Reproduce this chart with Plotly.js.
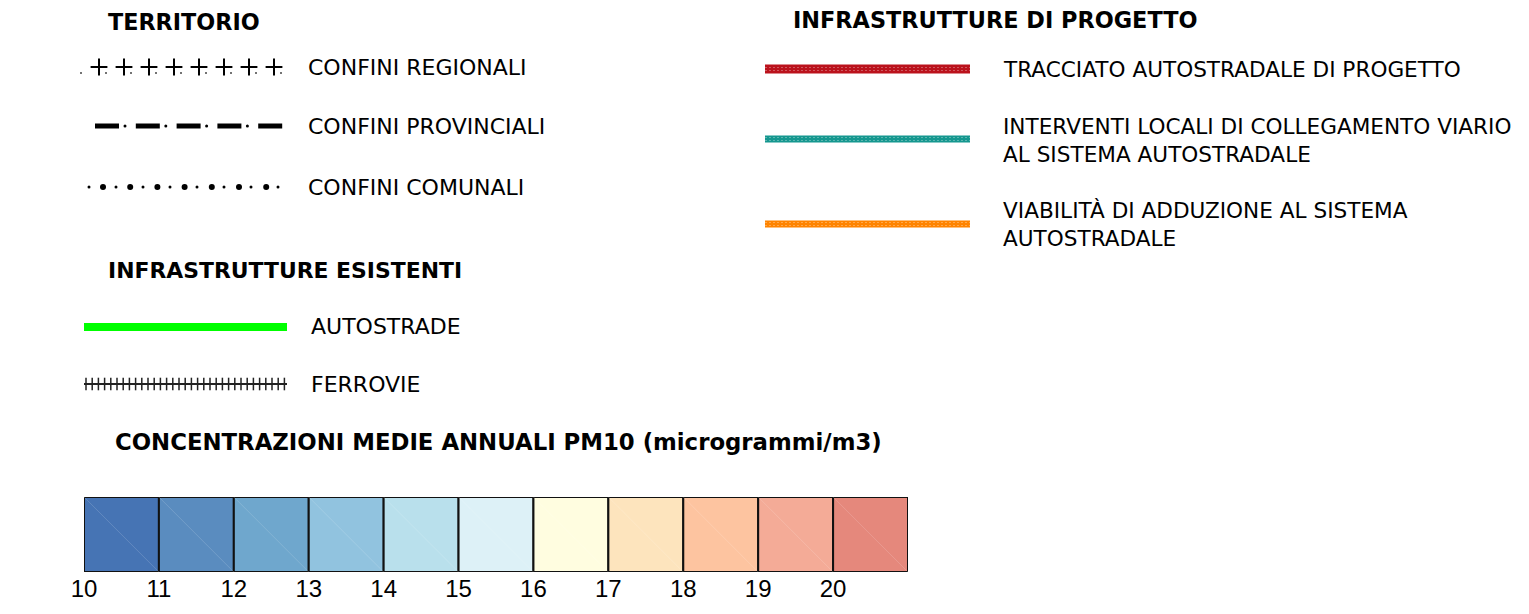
<!DOCTYPE html>
<html><head><meta charset="utf-8">
<script src="https://cdn.plot.ly/plotly-3.0.1.min.js"></script>
<style>html,body{margin:0;padding:0;background:#fff;overflow:hidden}</style>
</head><body><div id="chart" style="width:1529px;height:614px"></div>
<script>
// ---- DATA ----
const binStart = [10, 11, 12, 13, 14, 15, 16, 17, 18, 19, 20];
const binColors = ['#4674b4', '#5a8cbf', '#6fa7cd', '#91c3df', '#b9e0ec', '#ddf1f7',
                   '#fffde0', '#fde4bd', '#fdc4a0', '#f4ab97', '#e5887c'];
const tickValues = [10, 11, 12, 13, 14, 15, 16, 17, 18, 19, 20];
const tickLabels = ['10', '11', '12', '13', '14', '15', '16', '17', '18', '19', '20'];
const scaleTitle = 'CONCENTRAZIONI MEDIE ANNUALI PM10 (microgrammi/m3)';
const sectionTitles = ['TERRITORIO', 'INFRASTRUTTURE ESISTENTI', 'INFRASTRUTTURE DI PROGETTO'];
const territorioLabels = ['CONFINI REGIONALI', 'CONFINI PROVINCIALI', 'CONFINI COMUNALI'];
const esistentiLabels = ['AUTOSTRADE', 'FERROVIE'];
const progettoLabels = ['TRACCIATO AUTOSTRADALE DI PROGETTO',
  'INTERVENTI LOCALI DI COLLEGAMENTO VIARIO<br>AL SISTEMA AUTOSTRADALE',
  'VIABILITÀ DI ADDUZIONE AL SISTEMA<br>AUTOSTRADALE'];
const progettoColors = ['#bb121c', '#15978f', '#ff8400'];

// ---- LAYOUT CONSTANTS (pixels) ----
const W = 1529, H = 614;
const px = v => v / W, py = v => 1 - v / H;
const TXT = 'DejaVu Sans, Liberation Sans, sans-serif';
const leftSym = [84, 287], rightSym = [765, 970];
const rowY = {reg: 67, prov: 126, com: 187, auto: 327, ferr: 384, p1: 69, p2: 139, p3: 224};

const traces = [];
// colour scale bars
traces.push({
  type: 'bar', x: binStart.map(v => v + 0.5), y: binStart.map(() => 1), width: 1,
  marker: {color: binColors, line: {color: '#111', width: 2}},
  hoverinfo: 'skip', xaxis: 'x', yaxis: 'y'
});

function line(xs, ys, color, width, dash) {
  traces.push({type: 'scatter', mode: 'lines', x: xs, y: ys, xaxis: 'x2', yaxis: 'y2',
    line: {color: color, width: width, dash: dash || 'solid'}, hoverinfo: 'skip'});
}
function marks(xs, ys, symbol, size, color, lw) {
  traces.push({type: 'scatter', mode: 'markers', x: xs, y: ys, xaxis: 'x2', yaxis: 'y2',
    marker: {symbol: symbol, size: size, color: color, line: {color: color, width: lw || 0}}, hoverinfo: 'skip'});
}
const seq = (a, step, n) => Array.from({length: n}, (_, i) => a + i * step);

// confini regionali: plus signs
const plusX = seq(99, 25, 8);
marks(plusX, plusX.map(() => rowY.reg), 'cross-thin', 12, '#000', 2);
const smallX = [81].concat(plusX.map(v => v + 7));
marks(smallX, smallX.map(v => rowY.reg + 6), 'circle', 2, '#444');
// confini provinciali: dash + dot
const dashX = seq(95, 40.8, 5);
dashX.forEach(x0 => line([x0, x0 + 24], [rowY.prov, rowY.prov], '#000', 5));
const pdotX = dashX.slice(0, 4).map(v => v + 30);
marks(pdotX, pdotX.map(() => rowY.prov), 'circle', 3, '#000');
// confini comunali: dots
const bigX = seq(103, 27.2, 7), smX = seq(89, 27, 8);
marks(bigX, bigX.map(() => rowY.com), 'circle', 6, '#000');
marks(smX, smX.map(() => rowY.com), 'circle', 3, '#000');
// autostrade
line(leftSym, [rowY.auto, rowY.auto], '#00ff00', 8);
// ferrovie
line(leftSym, [rowY.ferr, rowY.ferr], '#222', 2);
const tickX = seq(86, 6.2, 33);
marks(tickX, tickX.map(() => rowY.ferr), 'line-ns', 9, '#222', 1.5);
// progetto lines
[rowY.p1, rowY.p2, rowY.p3].forEach((y, i) => {
  line(rightSym, [y, y], progettoColors[i], i === 0 ? 9 : 7);
  line(rightSym, [y - 1.5, y - 1.5], 'rgba(255,255,255,0.3)', 1, '2px,2px');
  line(rightSym, [y + 1.5, y + 1.5], 'rgba(255,255,255,0.3)', 1, '2px,2px');
});

// ---- ANNOTATIONS ----
const ann = [];
function txt(text, x, y, size, bold) {
  ann.push({text: text, x: px(x), y: py(y), xref: 'paper', yref: 'paper', xanchor: 'left', yanchor: 'middle',
    align: 'left', showarrow: false, font: {family: TXT, size: size, color: '#000', weight: bold ? 'bold' : 'normal'}});
}
txt(sectionTitles[0], 106, 22, 22.3, true);
txt(sectionTitles[1], 106, 270, 21.9, true);
txt(sectionTitles[2], 791, 20, 22.4, true);
txt(scaleTitle, 113, 442, 22.8, true);
txt(territorioLabels[0], 306, 67, 22);
txt(territorioLabels[1], 306, 127, 22);
txt(territorioLabels[2], 306, 187, 22);
txt(esistentiLabels[0], 309, 326, 22);
txt(esistentiLabels[1], 309, 385, 22);
txt(progettoLabels[0], 1001, 69, 21.6);
txt(progettoLabels[1], 1001, 140, 21.6);
txt(progettoLabels[2], 1001, 225, 21.6);

// faint diagonals in scale cells
const shapes = binStart.map(v => ({type: 'line', xref: 'x', yref: 'y', x0: v, y0: 1, x1: v + 1, y1: 0,
  line: {color: 'rgba(255,255,255,0.15)', width: 1}, layer: 'above'}));

const layout = {
  width: W, height: H, margin: {l: 0, r: 0, t: 0, b: 0}, paper_bgcolor: '#fff', plot_bgcolor: 'rgba(0,0,0,0)',
  showlegend: false, bargap: 0,
  xaxis: {domain: [px(84), px(908)], range: [10, 21], tickvals: tickValues, ticktext: tickLabels,
    showgrid: false, zeroline: false, showline: false, ticks: '', fixedrange: true,
    tickfont: {family: 'Liberation Sans, sans-serif', size: 24, color: '#000'}, anchor: 'y'},
  yaxis: {domain: [1 - 572 / H, 1 - 497 / H], range: [0, 1], visible: false, fixedrange: true, anchor: 'x'},
  xaxis2: {domain: [0, 1], range: [0, W], visible: false, anchor: 'y2', fixedrange: true},
  yaxis2: {domain: [0, 1], range: [H, 0], visible: false, anchor: 'x2', fixedrange: true},
  annotations: ann, shapes: shapes
};
Plotly.newPlot('chart', traces, layout, {displayModeBar: false, staticPlot: true});
</script></body></html>
